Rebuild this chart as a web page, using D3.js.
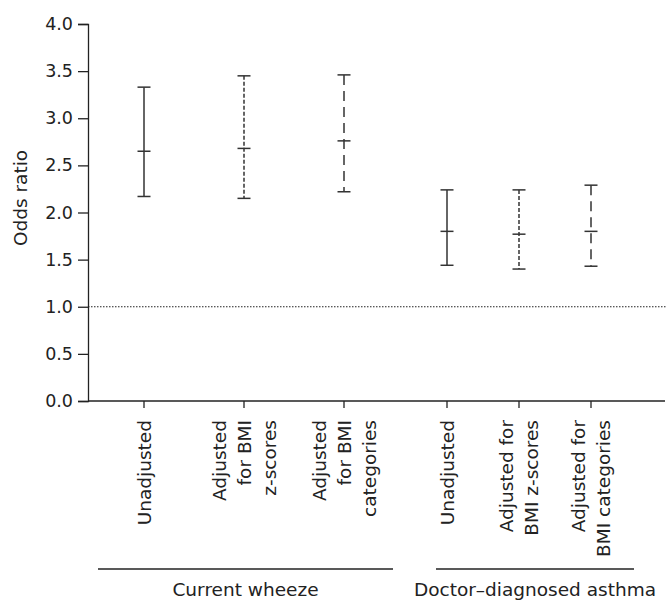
<!DOCTYPE html>
<html>
<head>
<meta charset="utf-8">
<script src="https://cdn.jsdelivr.net/npm/d3@7"></script>
<style>
  body { margin: 0; background: #fff; }
  svg text { font-family: "DejaVu Sans", sans-serif; fill: #222; }
</style>
</head>
<body>
<svg id="chart" width="667" height="601"></svg>
<script>
// data
const groups = ["Current wheeze", "Doctor\u2013diagnosed asthma"];
const groupOf = [0, 0, 0, 1, 1, 1];
const labels = [
  ["Unadjusted"],
  ["Adjusted", "for BMI", "z-scores"],
  ["Adjusted", "for BMI", "categories"],
  ["Unadjusted"],
  ["Adjusted for", "BMI z-scores"],
  ["Adjusted for", "BMI categories"]
];
const oddsRatio = [2.65, 2.68, 2.76, 1.80, 1.77, 1.80];
const ciLow = [2.17, 2.15, 2.22, 1.44, 1.40, 1.43];
const ciHigh = [3.33, 3.45, 3.46, 2.24, 2.24, 2.29];
const lineStyle = [0, 1, 2, 0, 1, 2]; // solid, short dash, long dash
const yTicks = [0, 0.5, 1, 1.5, 2, 2.5, 3, 3.5, 4];
const refLine = 1.0;

const dashes = [null, "4,2", "10,6"];
const fs = 18.5;

const svg = d3.select("#chart");
const mLeft = 88, mTop = 24, mBottom = 401, mRight = 667;

const y = d3.scaleLinear().domain([0, 4]).range([mBottom, mTop]);

// each group gets its own point scale (the panels are not the same width)
const groupRange = [[144, 344], [447, 591]];
const groupScales = groupRange.map((r, g) =>
  d3.scalePoint()
    .domain(d3.range(labels.length).filter(i => groupOf[i] === g))
    .range(r));
const x = i => groupScales[groupOf[i]](i);

// y axis
const yAxis = svg.append("g")
  .attr("transform", `translate(${mLeft},0)`)
  .call(d3.axisLeft(y).tickValues(yTicks).tickFormat(d3.format(".1f")).tickSize(10).tickPadding(5));
yAxis.select(".domain").attr("stroke", "#222").attr("stroke-width", 1.3);
yAxis.selectAll(".tick line").attr("stroke", "#222").attr("stroke-width", 1.3);
yAxis.selectAll(".tick text").attr("font-size", 17.5).attr("fill", "#222")
  .style("font-family", "DejaVu Sans");

svg.append("text")
  .attr("transform", `translate(20,198) rotate(-90)`)
  .attr("text-anchor", "middle")
  .attr("dominant-baseline", "central")
  .attr("font-size", fs)
  .text("Odds ratio");

// x axis
svg.append("line")
  .attr("x1", mLeft).attr("x2", mRight - 2)
  .attr("y1", mBottom).attr("y2", mBottom)
  .attr("stroke", "#222").attr("stroke-width", 1.3);

svg.append("g").selectAll("line")
  .data(d3.range(labels.length))
  .join("line")
  .attr("x1", i => x(i)).attr("x2", i => x(i))
  .attr("y1", mBottom).attr("y2", mBottom + 7)
  .attr("stroke", "#222").attr("stroke-width", 1.3);

// reference line at OR = 1
svg.append("line")
  .attr("x1", mLeft).attr("x2", mRight)
  .attr("y1", y(refLine)).attr("y2", y(refLine))
  .attr("stroke", "#222").attr("stroke-width", 1)
  .attr("stroke-dasharray", "1.5,1.5");

// category labels, rotated
const lineGap = 25;
const lab = svg.append("g").selectAll("g")
  .data(d3.range(labels.length))
  .join("g")
  .attr("transform", i => `translate(${x(i)},420) rotate(-90)`);
lab.each(function(i) {
  const lines = labels[i];
  const n = lines.length;
  d3.select(this).selectAll("text")
    .data(lines)
    .join("text")
    .attr("x", 0)
    .attr("y", (d, k) => (k - (n - 1) / 2) * lineGap)
    .attr("text-anchor", "end")
    .attr("dominant-baseline", "central")
    .attr("font-size", fs)
    .text(d => d);
});

// group brackets
const groupLines = [[98, 393], [436, 634]];
groups.forEach((g, k) => {
  svg.append("line")
    .attr("x1", groupLines[k][0]).attr("x2", groupLines[k][1])
    .attr("y1", 569).attr("y2", 569)
    .attr("stroke", "#222").attr("stroke-width", 1.3);
  svg.append("text")
    .attr("x", (groupLines[k][0] + groupLines[k][1]) / 2)
    .attr("y", 596)
    .attr("text-anchor", "middle")
    .attr("font-size", fs)
    .text(g);
});

// error bars
const capW = 6.5;
const bars = svg.append("g").selectAll("g")
  .data(d3.range(labels.length))
  .join("g")
  .attr("stroke", "#333")
  .attr("stroke-width", 1.5);

bars.append("line")
  .attr("x1", i => x(i)).attr("x2", i => x(i))
  .attr("y1", i => y(ciHigh[i])).attr("y2", i => y(ciLow[i]))
  .attr("stroke-dasharray", i => dashes[lineStyle[i]]);

[ciHigh, oddsRatio, ciLow].forEach(arr => {
  bars.append("line")
    .attr("x1", i => x(i) - capW).attr("x2", i => x(i) + capW)
    .attr("y1", i => y(arr[i])).attr("y2", i => y(arr[i]));
});
</script>
</body>
</html>
